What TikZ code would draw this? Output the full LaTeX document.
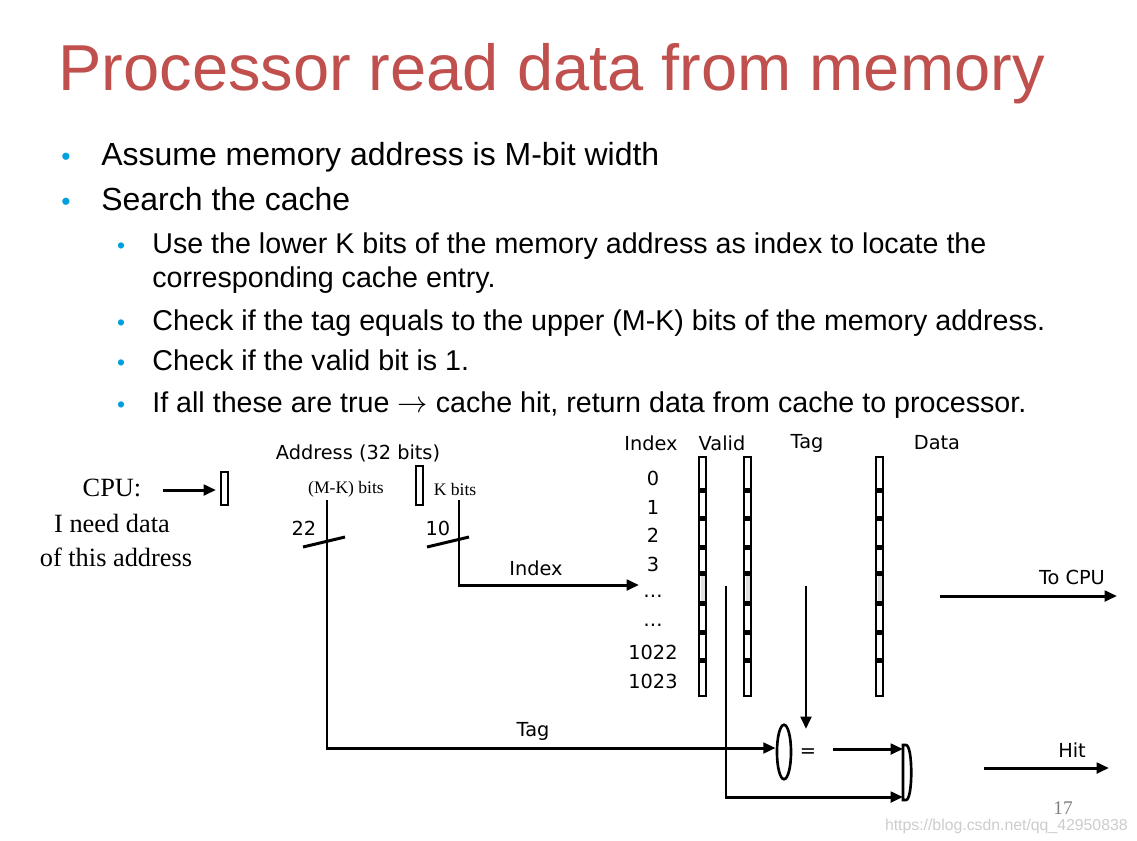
\documentclass[tikz,border=0pt]{standalone}
\usepackage{fontspec}
\setmainfont{Liberation Sans}
\newfontfamily\serf{Liberation Serif}
\newfontfamily\diag{DejaVu Sans}
\usetikzlibrary{arrows.meta,shapes.geometric}
\definecolor{titlered}{RGB}{192,80,77}
\definecolor{bulletblue}{RGB}{0,160,220}
\tikzset{
  wire/.style={line width=1.7pt},
  arr/.style={wire,-{Triangle[length=7pt,width=6pt]}},
  lbl/.style={font=\diag\fontsize{11}{12}\selectfont,inner sep=0pt},
  cpu/.style={font=\serf\fontsize{15}{16}\selectfont,inner sep=0pt},
  bits/.style={font=\serf\fontsize{10}{11}\selectfont,inner sep=0pt},
  bar/.style={line width=1.5pt,fill=white},
  b1/.style={anchor=base west,font=\fontsize{18.2}{21}\selectfont,inner sep=0pt},
  b2/.style={anchor=base west,font=\fontsize{16.3}{19}\selectfont,inner sep=0pt,align=left},
  dot/.style={anchor=base,text=bulletblue,inner sep=0pt}
}
\begin{document}
\begin{tikzpicture}[x=0.02cm,y=-0.02cm]
\useasboundingbox (0,0) rectangle (1137,840);
% title and bullets
\node[anchor=base west,text=titlered,font=\fontsize{37}{40}\selectfont,inner sep=0pt] (title) at (58,90) {Processor read data from memory};
\node[dot,font=\fontsize{15}{18}\selectfont] (d1) at (66,165) {•};
\node[b1] (t1) at (101,165) {Assume memory address is M-bit width};
\node[dot,font=\fontsize{15}{18}\selectfont] (d2) at (66,210) {•};
\node[b1] (t2) at (101,210) {Search the cache};
\node[dot,font=\fontsize{13}{16}\selectfont] (d3) at (121,253) {•};
\node[b2] (t3) at (152,253) {Use the lower K bits of the memory address as index to locate the};
\node[b2] (t3b) at (152,287) {corresponding cache entry.};
\node[dot,font=\fontsize{13}{16}\selectfont] (d4) at (121,330) {•};
\node[b2] (t4) at (152,330) {Check if the tag equals to the upper (M-K) bits of the memory address.};
\node[dot,font=\fontsize{13}{16}\selectfont] (d5) at (121,370) {•};
\node[b2] (t5) at (152,370) {Check if the valid bit is 1.};
\node[dot,font=\fontsize{13}{16}\selectfont] (d6) at (121,412) {•};
\node[b2] (t6) at (152,412) {If all these are true $\rightarrow$ cache hit, return data from cache to processor.};
% CPU
\node[cpu] (cpu) at (112,488) {CPU:};
\node[cpu] (need) at (112,523) {I need data};
\node[cpu] (addr) at (116,557) {of this address};
\coordinate (ca) at (163,490);
\draw[bar] (221,472) rectangle (228,505);
\coordinate (cb) at (216,490);
\draw[arr] (ca) -- (cb);
% address
\node[lbl] (addrl) at (358,453) {Address (32 bits)};
\draw[bar] (416,466) rectangle (423,505);
\node[bits] (mk) at (346,489) {(M-K) bits};
\node[bits] (kb) at (455,489) {K bits};
\node[lbl] (n22) at (304,528) {22};
\node[lbl] (n10) at (438,528) {10};
\coordinate (tagtop) at (327,500);
\coordinate (tagcorner) at (327,748);
\coordinate (idxtop) at (459,500);
\coordinate (idxcorner) at (459,585);
\coordinate (idxend) at (639,585);
\draw[wire] (303,547) -- (345,537);
\draw[wire] (427,547) -- (469,537);
\draw[arr] (idxtop) -- (idxcorner) -- (idxend);
\node[lbl] (idxl) at (536,568) {Index};
\node[lbl] (tagl) at (533,731) {Tag};
% table headers
\node[lbl] (hi) at (651,443) {Index};
\node[lbl] (hv) at (722,443) {Valid};
\node[lbl] (ht) at (807,443) {Tag};
\node[lbl] (hd) at (937,443) {Data};
\foreach \y/\t [count=\i] in {478/0,507/1,535/2,564/3,596/\dots,625/\dots,652/1022,681/1023}
  \node[lbl] (row\i) at (653,\y) {\t};
% bars
\foreach \x in {702.5,747.5,879.5}{
  \draw[bar] (\x-3.5,457) rectangle (\x+3.5,696);
  \fill[gray!25] (\x-2,573) rectangle (\x+2,602);
  \foreach \y in {490,518,547,573,603,632,660}
    \fill (\x-3.5,\y-2.5) rectangle (\x+3.5,\y+2.5);
}
% comparator
\node[draw,line width=1.5pt,ellipse,minimum width=8pt,minimum height=31pt,inner sep=0pt] (eq) at (784,752) {};
\node[lbl] (eqs) at (808,753) {=};
\draw[arr] (tagtop) -- (tagcorner) -- (eq.west |- tagcorner);
\coordinate (tagcol) at (806,586);
\coordinate (tagend) at (806,729);
\draw[arr] (tagcol) -- (tagend);
\draw[line width=1.5pt] (903,745) -- (906,745) .. controls (913,745) and (913,800) .. (906,800) -- (903,800) -- cycle;
\coordinate (and1) at (903,749);
\coordinate (and2) at (903,797);
\coordinate (eqout) at (833,749);
\draw[arr] (eqout) -- (and1);
\coordinate (vtop) at (726,586);
\coordinate (vcorner) at (726,797);
\draw[arr] (vtop) -- (vcorner) -- (and2);
% outputs
\coordinate (cpu1) at (940,596);
\coordinate (cpu2) at (1117,596);
\draw[arr] (cpu1) -- (cpu2);
\node[lbl] (tocpu) at (1072,577) {To CPU};
\coordinate (hit1) at (984,768);
\coordinate (hit2) at (1109,768);
\draw[arr] (hit1) -- (hit2);
\node[lbl] (hit) at (1072,750) {Hit};
\node[font=\serf\fontsize{11}{12}\selectfont,text=gray,inner sep=0pt] (pg) at (1063,808) {17};
\node[font=\fontsize{9}{10}\selectfont,text=gray!40,inner sep=0pt,anchor=east] (wm) at (1128,826) {https://blog.csdn.net/qq\_42950838};
\end{tikzpicture}
\end{document}
